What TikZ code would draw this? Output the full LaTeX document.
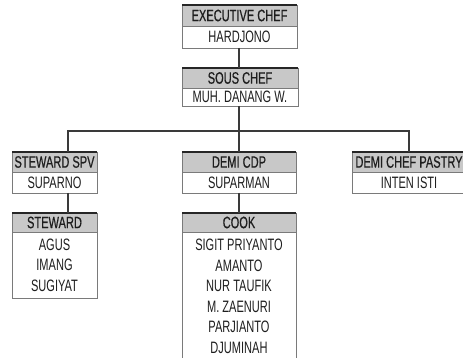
\documentclass[tikz,border=0pt]{standalone}
\usepackage{fontspec}
\newfontfamily\nf[FakeStretch=0.67]{Liberation Sans}
\newfontfamily\hf[FakeStretch=0.67,FakeBold=0.6]{Liberation Sans}
\definecolor{boxgray}{HTML}{7A7A7A}
\definecolor{hdrgray}{HTML}{C8C8C8}
\definecolor{lineblack}{HTML}{3A3A3A}
\definecolor{txt}{HTML}{1E1E1E}
\begin{document}
\begin{tikzpicture}[x=1pt,y=-1pt,
  base/.style={draw=boxgray, line width=0.8pt, inner sep=0pt, outer sep=0pt, anchor=north west,
    font=\nf\fontsize{16.5}{20.5}\selectfont, text=txt},
  hdr/.style={base, fill=hdrgray, font=\hf\fontsize{16.5}{20.5}\selectfont},
  bdy/.style={base, fill=white, align=center},
  conn/.style={draw=lineblack, line width=1.3pt},
  topln/.style={draw=black!85, line width=1.3pt}]
\clip (0,0) rectangle (463,358);
\fill[white] (0,0) rectangle (463,358);
% level 0
\node[hdr, minimum width=115pt, minimum height=21pt] (exech) at (182,5) {EXECUTIVE CHEF};
\node[bdy, minimum width=115pt, minimum height=22pt] (execb) at (182,26) {HARDJONO};
% level 1
\node[hdr, minimum width=116pt, minimum height=20pt] (sousch) at (182,68) {SOUS CHEF};
\node[bdy, minimum width=116pt, minimum height=18pt] (sousb) at (182,88) {MUH. DANANG W.};
% level 2
\node[hdr, minimum width=85pt, minimum height=20pt] (spvh) at (12,152) {STEWARD SPV};
\node[bdy, minimum width=85pt, minimum height=21pt] (spvb) at (12,172) {SUPARNO};
\node[hdr, minimum width=114pt, minimum height=20pt] (cdph) at (182,152) {DEMI CDP};
\node[bdy, minimum width=114pt, minimum height=21pt] (cdpb) at (182,172) {SUPARMAN};
\node[hdr, minimum width=114pt, minimum height=20pt] (pash) at (352,152) {DEMI CHEF PASTRY};
\node[bdy, minimum width=114pt, minimum height=21pt] (pasb) at (352,172) {INTEN ISTI};
% level 3
\node[hdr, minimum width=85pt, minimum height=19pt] (stwh) at (12,213) {STEWARD};
\node[bdy, minimum width=85pt, minimum height=66pt] (stwb) at (12,232) {AGUS\\IMANG\\SUGIYAT};
\node[hdr, minimum width=114pt, minimum height=19pt] (cookh) at (182,213) {COOK};
\node[bdy, minimum width=114pt, minimum height=128.5pt] (cookb) at (182,232)
  {SIGIT PRIYANTO\\AMANTO\\NUR TAUFIK\\M. ZAENURI\\PARJIANTO\\DJUMINAH};
% header top borders
\foreach \n in {exech,sousch,spvh,cdph,pash,stwh,cookh}
  \draw[topln] (\n.north west) -- (\n.north east);
% connector points
\coordinate (bus) at (239,131);
\coordinate (spvtop) at (68,152);
\coordinate (spvbot) at (68,193);
\coordinate (stwtop) at (68,213);
\coordinate (pastop) at (409,152);
\coordinate (cdptop) at (239,152);
\coordinate (cdpbot) at (239,193);
\coordinate (cooktop) at (239,213);
\coordinate (execbot) at (239,48);
\coordinate (soustop) at (239,68);
\coordinate (sousbot) at (239,106);
% connectors
\draw[conn] (execbot) -- (soustop);
\draw[conn] (sousbot) -- (bus);
\draw[conn] (bus) -| (spvtop);
\draw[conn] (bus) -| (pastop);
\draw[conn] (bus) -- (cdptop);
\draw[conn] (spvbot) -- (stwtop);
\draw[conn] (cdpbot) -- (cooktop);
\end{tikzpicture}
\end{document}
